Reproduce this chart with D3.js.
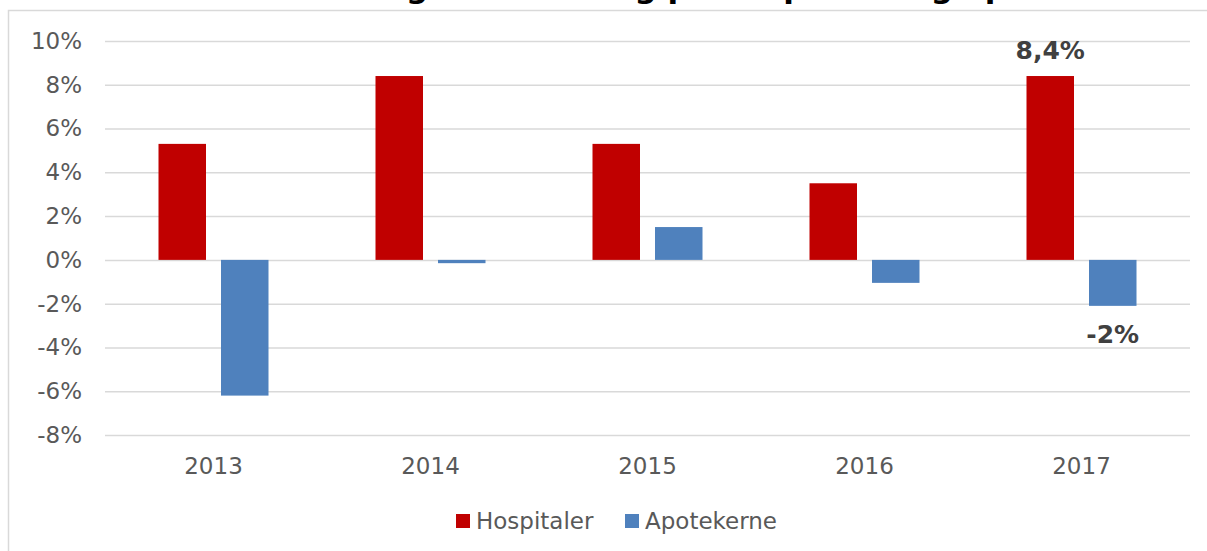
<!DOCTYPE html>
<html>
<head>
<meta charset="utf-8">
<script src="https://cdn.jsdelivr.net/npm/d3@7"></script>
<style>
  body{margin:0;background:#fff;}
  svg text{font-family:"DejaVu Sans",Verdana,sans-serif;}
</style>
</head>
<body>
<div class="chart"></div>
<script>
var years = ["2013","2014","2015","2016","2017"];
var seriesNames = ["Hospitaler","Apotekerne"];
var hospitaler = [5.3, 8.4, 5.3, 3.5, 8.4];
var apotekerne = [-6.2, -0.15, 1.5, -1.05, -2.1];
var yTicks = [-8,-6,-4,-2,0,2,4,6,8,10];
var colors = ["#c00000","#4f81bd"];
// the only data labels shown in the original (2017)
var labels = [{series:0, idx:4, text:"8,4%"},{series:1, idx:4, text:"-2%"}];

var width = 1207, height = 551;
var marginLeft = 105, marginRight = 17, marginTop = 41, marginBottom = 116;

var svg = d3.select(".chart").append("svg")
	.attr("width",width)
	.attr("height",height);

// outer frame of the chart area
svg.append("rect")
	.attr("x",8.5).attr("y",10.5)
	.attr("width",width+20).attr("height",height+20)
	.attr("fill","none")
	.attr("stroke","#d9d9d9")
	.attr("stroke-width",1.5);

// title, cut off by the top of the picture (only descenders visible)
svg.append("text")
	.attr("x",692).attr("y",-2)
	.attr("text-anchor","middle")
	.style("font-size","31px")
	.style("font-weight","bold")
	.attr("fill","#000")
	.text("Udvikling i omsætning på hospitaler og apoteker");

var x = d3.scaleBand()
	.domain(years)
	.range([marginLeft, width-marginRight]);
var xInner = d3.scaleBand()
	.domain([0,1])
	.range([0, 110])
	.paddingInner(0.24);
var y = d3.scaleLinear()
	.domain([-8,10])
	.range([height-marginBottom, marginTop]);

// gridlines + y labels
var yAxis = d3.axisLeft(y)
	.tickValues(yTicks)
	.tickSize(-(width-marginRight-marginLeft))
	.tickPadding(23)
	.tickFormat(function(d){return d+"%";});
var gy = svg.append("g")
	.attr("transform","translate("+marginLeft+",0)")
	.call(yAxis);
gy.select(".domain").remove();
gy.selectAll(".tick line").attr("stroke","#d9d9d9").attr("stroke-width",1.5);
gy.selectAll(".tick text").attr("fill","#595959").style("font-size","23px");

// x labels
var xAxis = d3.axisBottom(x).tickSize(0).tickPadding(0);
var gx = svg.append("g")
	.attr("transform","translate(0,"+(height-marginBottom)+")")
	.call(xAxis);
gx.select(".domain").remove();
gx.selectAll(".tick text")
	.attr("fill","#595959")
	.attr("dy","1.7em")
	.style("font-size","23px");

var series = [hospitaler, apotekerne];
series.forEach(function(vals,s){
	svg.append("g")
		.selectAll("rect")
		.data(vals)
		.enter()
		.append("rect")
		.attr("x",function(d,i){return x(years[i]) + x.bandwidth()/2 - 55 + xInner(s);})
		.attr("y",function(d){return y(Math.max(0,d));})
		.attr("width",xInner.bandwidth())
		.attr("height",function(d){return Math.abs(y(d)-y(0));})
		.attr("fill",colors[s]);
});

svg.append("g")
	.selectAll("text")
	.data(labels)
	.enter()
	.append("text")
	.attr("x",function(d){return x(years[d.idx]) + x.bandwidth()/2 - 55 + xInner(d.series) + xInner.bandwidth()/2;})
	.attr("y",function(d){
		var v = series[d.series][d.idx];
		return v >= 0 ? y(v) - 17 : y(v) + 37;
	})
	.attr("text-anchor","middle")
	.attr("fill","#404040")
	.style("font-size","25px")
	.style("font-weight","bold")
	.text(function(d){return d.text;});

// legend
var legend = svg.append("g").attr("transform","translate(456,514)");
var legendX = [0, 169];
seriesNames.forEach(function(name,i){
	var g = legend.append("g").attr("transform","translate("+legendX[i]+",0)");
	g.append("rect").attr("width",14).attr("height",14).attr("fill",colors[i]);
	g.append("text")
		.attr("x",20).attr("y",15)
		.attr("fill","#595959")
		.style("font-size","23px")
		.text(name);
});
</script>
</body>
</html>
